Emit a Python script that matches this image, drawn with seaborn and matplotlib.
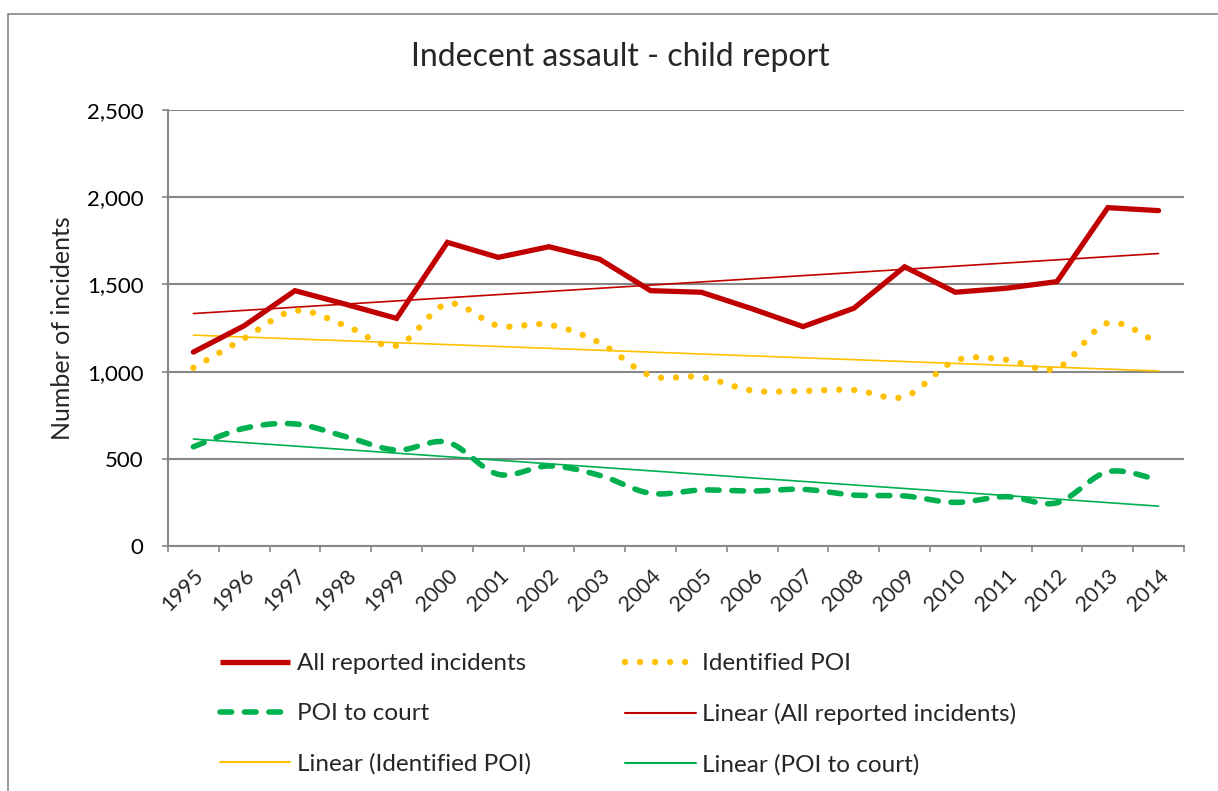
import numpy as np
import pandas as pd
import matplotlib
matplotlib.use("Agg")
import matplotlib.pyplot as plt
import seaborn as sns
from matplotlib.patches import Rectangle
from matplotlib.lines import Line2D

years = [str(y) for y in range(1995, 2015)]
all_reported = [1112, 1263, 1464, 1386, 1305, 1741, 1655, 1716, 1644, 1464,
                1455, 1360, 1258, 1363, 1601, 1455, 1478, 1516, 1940, 1923]
identified_poi = [1022, 1190, 1349, 1263, 1149, 1389, 1263, 1269, 1165, 977,
                  969, 891, 889, 895, 856, 1063, 1068, 1019, 1279, 1160]
poi_to_court = [569, 675, 700, 627, 550, 595, 411, 459, 405, 302,
                321, 315, 325, 292, 287, 250, 283, 248, 426, 378]
yticks = [0, 500, 1000, 1500, 2000, 2500]

RED = "#C00000"
YELLOW = "#FFC000"
GREEN = "#00B050"
GRID = "#878787"

sns.set_theme(style="white")
plt.rcParams["font.family"] = ["Lato", "DejaVu Sans"]

fig = plt.figure(figsize=(12.18, 7.91), dpi=100)
ax = fig.add_axes([168 / 1218, 1 - 546 / 791, (1184 - 168) / 1218, (546 - 110) / 791])

x = np.arange(len(years))


def smooth(xs, ys, n=20):
    p = np.column_stack([xs, ys]).astype(float)
    ext = np.vstack([p[0], p, p[-1]])
    out = []
    for i in range(len(p) - 1):
        p0, p1, p2, p3 = ext[i], ext[i + 1], ext[i + 2], ext[i + 3]
        c1 = p1 + (p2 - p0) / 6.0
        c2 = p2 - (p3 - p1) / 6.0
        t = np.linspace(0, 1, n, endpoint=(i == len(p) - 2))[:, None]
        seg = ((1 - t) ** 3) * p1 + 3 * ((1 - t) ** 2) * t * c1 + 3 * (1 - t) * t ** 2 * c2 + t ** 3 * p2
        out.append(seg)
    out = np.vstack(out)
    return out[:, 0], out[:, 1]


df = pd.DataFrame({"x": x, "all": all_reported, "ident": identified_poi, "court": poi_to_court})

# linear trend lines
trend = {}
for key in ["all", "ident", "court"]:
    k, b = np.polyfit(df["x"], df[key], 1)
    trend[key] = k * df["x"] + b

sns.lineplot(x=df["x"], y=trend["all"], ax=ax, color=RED, lw=1.2, zorder=3)
sns.lineplot(x=df["x"], y=trend["ident"], ax=ax, color=YELLOW, lw=1.2, zorder=3)
sns.lineplot(x=df["x"], y=trend["court"], ax=ax, color=GREEN, lw=1.2, zorder=3)

sns.lineplot(data=df, x="x", y="all", ax=ax, color=RED, lw=3.8, zorder=5,
             solid_joinstyle="miter", solid_capstyle="round")

DOTS = (0, (0.001, 2.35))
DASH = (0, (2.1, 2.3))
sx, sy = smooth(df["x"], df["ident"])
ax.plot(sx, sy, color=YELLOW, lw=4.6, linestyle=DOTS, dash_capstyle="round", zorder=4)
sx, sy = smooth(df["x"], df["court"])
ax.plot(sx, sy, color=GREEN, lw=4.0, linestyle=DASH, dash_capstyle="round", zorder=4)

ax.set_xlim(-0.5, len(years) - 0.5)
ax.set_ylim(0, 2500)
ax.set_yticks(yticks)
ax.set_yticklabels([f"{v:,}" for v in yticks], fontsize=16, color="black")
ax.yaxis.grid(True, color=GRID, lw=1.5)
ax.set_axisbelow(True)

ax.set_xticks(np.arange(len(years) + 1) - 0.5)
ax.set_xticklabels([])
ax.set_xticks(x, minor=True)
ax.set_xticklabels(years, minor=True, rotation=45, ha="right", va="top",
                   rotation_mode="anchor", fontsize=15.5)
ax.tick_params(axis="x", which="major", length=4.5, width=1.2, color=GRID, direction="out")
ax.tick_params(axis="x", which="minor", length=0, pad=14)
ax.tick_params(axis="y", length=4.5, width=1.2, color=GRID, direction="out", pad=13)
ax.tick_params(axis="both", bottom=True, left=True)

for s in ["top", "right"]:
    ax.spines[s].set_visible(False)
for s in ["left", "bottom"]:
    ax.spines[s].set_color(GRID)
    ax.spines[s].set_linewidth(1.5)

ax.set_xlabel("")
ax.set_ylabel("")
fig.text(62 / 1218, 1 - 328 / 791, "Number of incidents", rotation=90,
         ha="center", va="center", fontsize=18)

fig.text(620 / 1218, 1 - 57 / 791, "Indecent assault - child report",
         ha="center", va="center", fontsize=23)

# outer chart border
fig.patches.append(Rectangle((8 / 1218, -0.05), 1.2, 1 - 14 / 791 + 0.05,
                             transform=fig.transFigure, fill=False,
                             edgecolor="#868686", lw=1.2))

handles = [
    Line2D([], [], color=RED, lw=3.8, solid_capstyle="butt"),
    Line2D([], [], color=GREEN, lw=4.0, linestyle=DASH, dash_capstyle="round"),
    Line2D([], [], color=YELLOW, lw=1.5),
    Line2D([], [], color=YELLOW, lw=4.6, linestyle=DOTS, dash_capstyle="round"),
    Line2D([], [], color=RED, lw=1.5),
    Line2D([], [], color=GREEN, lw=1.5),
]
labels = ["All reported incidents", "POI to court", "Linear (Identified POI)",
          "Identified POI", "Linear (All reported incidents)", "Linear (POI to court)"]
fig.legend(handles, labels, loc="upper left", bbox_to_anchor=(220 / 1218, 1 - 653 / 791),
           ncol=2, frameon=False, fontsize=17.5, handlelength=2.9, handletextpad=0.25,
           columnspacing=3.9, labelspacing=1.2, borderaxespad=0, borderpad=0)

fig.savefig("out.png", dpi=100)
